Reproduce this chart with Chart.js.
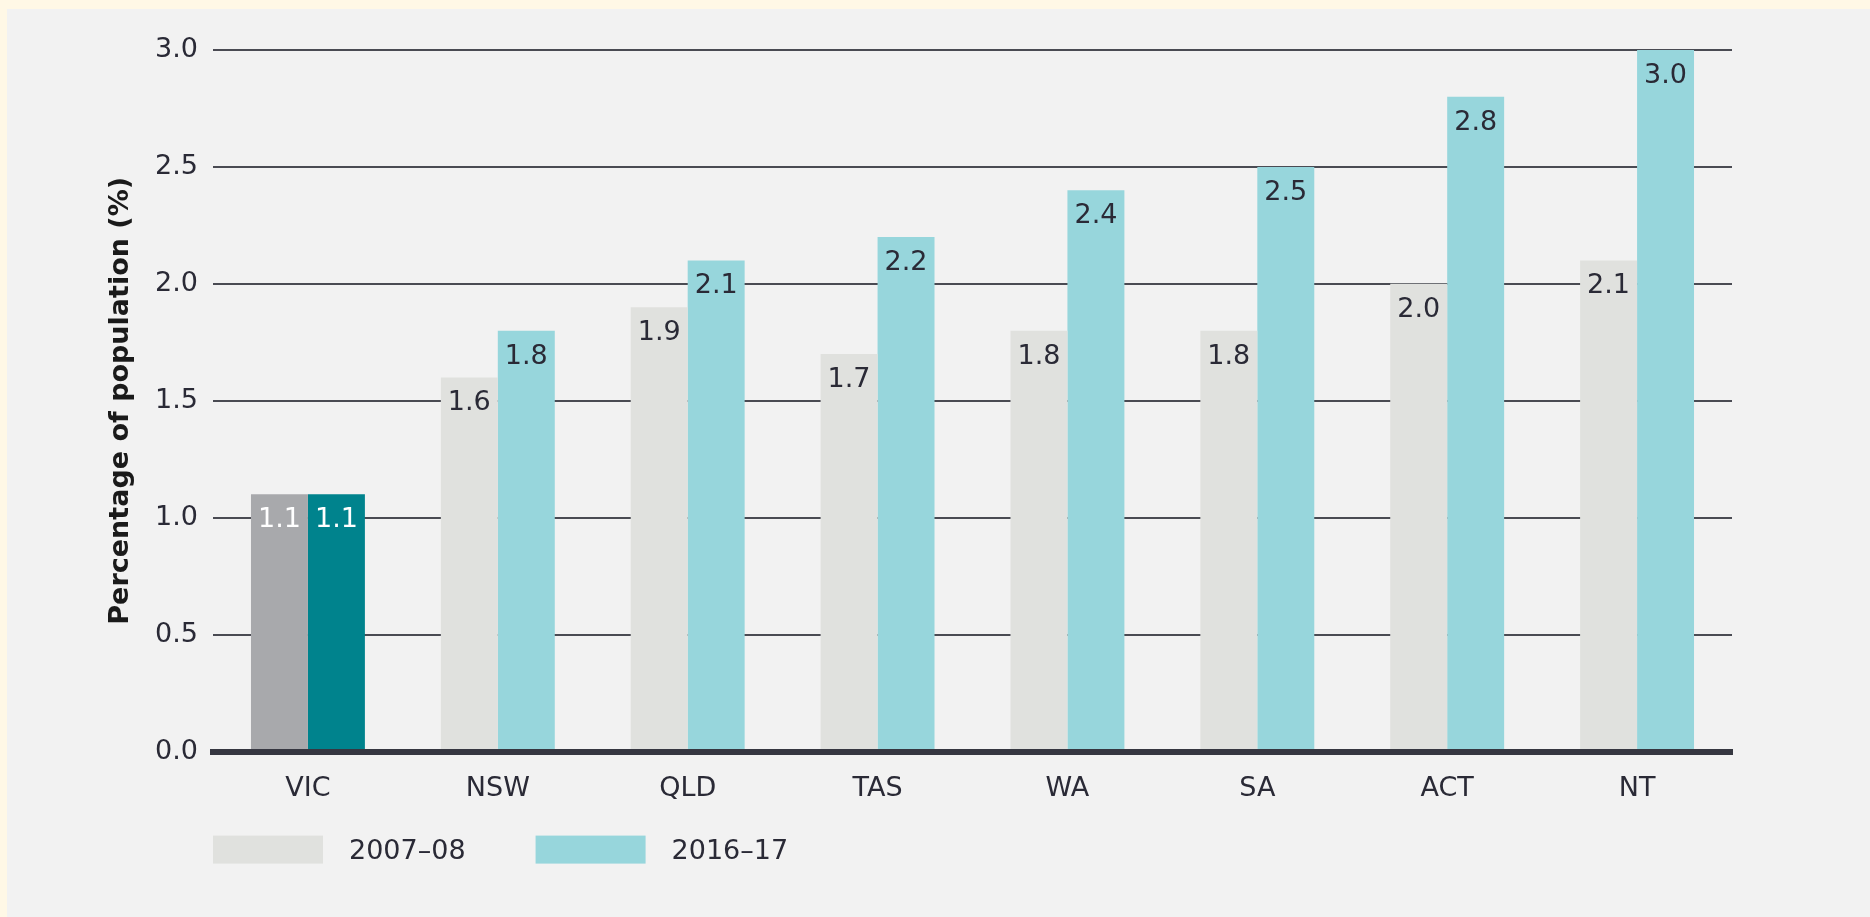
<!DOCTYPE html>
<html>
<head>
<meta charset="utf-8">
<script src="https://cdn.jsdelivr.net/npm/chart.js@4/dist/chart.umd.min.js"></script>
<style>
    html, body { margin: 0; padding: 0; background: #fff8e6; }
    body { width: 1870px; height: 917px; position: relative; overflow: hidden; }
    #panel { position: absolute; left: 7px; top: 9px; width: 1863px; height: 908px; background: #f2f2f2; }
    #chart { position: absolute; left: 0; top: 0; }
</style>
</head>
<body>
<div id="panel"><canvas id="chart" width="1863" height="908"></canvas></div>
<script>
const states = ['VIC', 'NSW', 'QLD', 'TAS', 'WA', 'SA', 'ACT', 'NT'];
const values2007 = [1.1, 1.6, 1.9, 1.7, 1.8, 1.8, 2.0, 2.1];
const values2016 = [1.1, 1.8, 2.1, 2.2, 2.4, 2.5, 2.8, 3.0];
const seriesNames = ['2007–08', '2016–17'];
const yTicks = [0, 0.5, 1.0, 1.5, 2.0, 2.5, 3.0];

const FONT = 'DejaVu Sans';
const TEXT = '#2a2a36';

// VIC is highlighted with darker shades
const colours2007 = states.map((s) => (s === 'VIC' ? '#a8a9ac' : '#e0e1de'));
const colours2016 = states.map((s) => (s === 'VIC' ? '#00838d' : '#97d6dc'));

const barLabels = {
    id: 'barLabels',
    afterDatasetsDraw(chart) {
        const { ctx } = chart;
        ctx.save();
        ctx.font = `27px "${FONT}"`;
        ctx.textAlign = 'center';
        ctx.textBaseline = 'middle';
        chart.data.datasets.forEach((ds, di) => {
            chart.getDatasetMeta(di).data.forEach((bar, i) => {
                ctx.fillStyle = states[i] === 'VIC' ? '#ffffff' : TEXT;
                ctx.fillText(ds.data[i].toFixed(1), bar.x, bar.y + 26);
            });
        });
        ctx.restore();
    },
};

const legendRow = {
    id: 'legendRow',
    afterDraw(chart) {
        const { ctx, chartArea } = chart;
        const top = chartArea.bottom + 84;
        let x = chartArea.left;
        ctx.save();
        ctx.font = `27px "${FONT}"`;
        ctx.textBaseline = 'middle';
        chart.data.datasets.forEach((ds) => {
            ctx.fillStyle = ds.legendColour;
            ctx.fillRect(x, top, 110, 28);
            ctx.fillStyle = TEXT;
            const tx = x + 136;
            ctx.fillText(ds.label, tx, top + 16);
            x = tx + ctx.measureText(ds.label).width + 70;
        });
        ctx.restore();
    },
};

new Chart(document.getElementById('chart'), {
    type: 'bar',
    data: {
        labels: states,
        datasets: [
            {
                label: seriesNames[0],
                data: values2007,
                backgroundColor: colours2007,
                legendColour: '#e0e1de',
            },
            {
                label: seriesNames[1],
                data: values2016,
                backgroundColor: colours2016,
                legendColour: '#97d6dc',
            },
        ],
    },
    options: {
        responsive: false,
        devicePixelRatio: 1,
        animation: false,
        layout: {
            padding: { top: 41, left: 98, right: 138, bottom: 99 },
        },
        datasets: {
            bar: { barPercentage: 1, categoryPercentage: 0.6, borderWidth: 0 },
        },
        plugins: {
            legend: { display: false },
            tooltip: { enabled: false },
        },
        scales: {
            x: {
                grid: { display: false },
                border: { display: true, color: '#363741', width: 6, z: 1 },
                ticks: {
                    color: TEXT,
                    padding: 13,
                    font: { family: FONT, size: 27 },
                },
            },
            y: {
                min: 0,
                max: 3,
                afterFit: (scale) => { scale.width = 108; },
                afterBuildTicks: (scale) => {
                    scale.ticks = yTicks.map((v) => ({ value: v }));
                },
                grid: {
                    color: '#4a4b53',
                    lineWidth: 2,
                    drawTicks: false,
                },
                border: { display: false },
                ticks: {
                    color: TEXT,
                    padding: 15,
                    font: { family: FONT, size: 27 },
                    callback: (v) => Number(v).toFixed(1),
                },
                title: {
                    display: true,
                    text: 'Percentage of population (%)',
                    color: '#1a1a1a',
                    padding: 0,
                    font: { family: FONT, size: 27, weight: 'bold' },
                },
            },
        },
    },
    plugins: [barLabels, legendRow],
});
</script>
</body>
</html>
